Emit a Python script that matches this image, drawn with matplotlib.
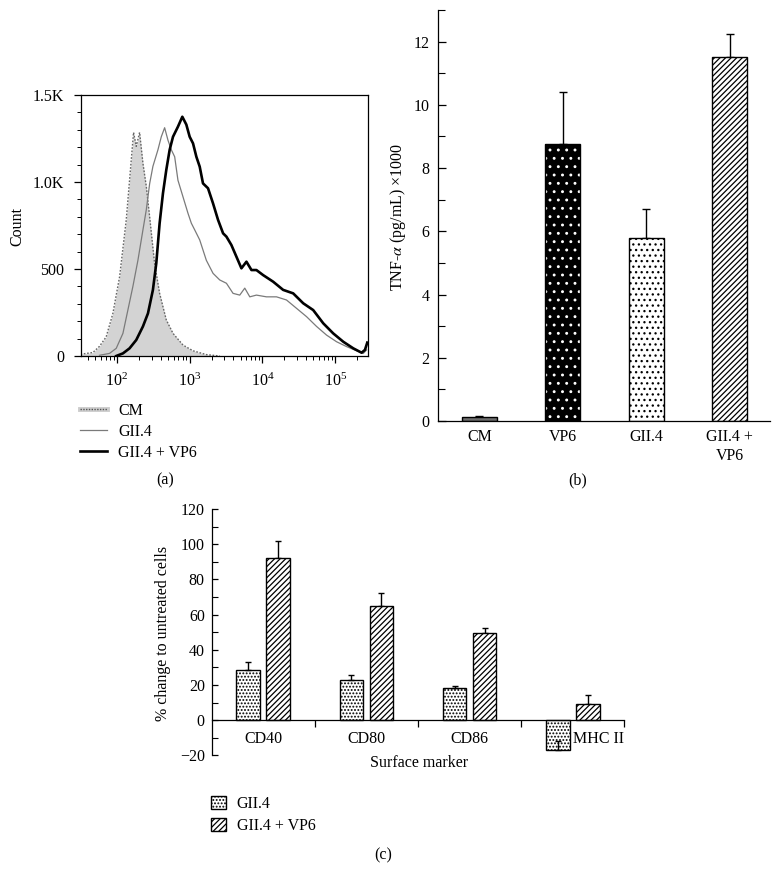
import numpy as np
import matplotlib
matplotlib.use("Agg")
import matplotlib.pyplot as plt
from matplotlib.lines import Line2D
from matplotlib.legend_handler import HandlerTuple
from matplotlib.ticker import FixedLocator, FixedFormatter, LogLocator, NullFormatter, MultipleLocator

plt.rcParams['font.family'] = ['Liberation Serif', 'DejaVu Serif']
plt.rcParams['mathtext.fontset'] = 'stix'
plt.rcParams['font.size'] = 11.5
plt.rcParams['axes.linewidth'] = 0.9
plt.rcParams['hatch.linewidth'] = 0.9

# ---------------- data ----------------
# (a) histogram (log10 fluorescence, count)
cm_logx = [1.50, 1.67, 1.76, 1.853, 1.945, 2.037, 2.128, 2.197, 2.229, 2.266, 2.312, 2.358,
           2.404, 2.45, 2.518, 2.587, 2.679, 2.771, 2.908, 3.046, 3.229, 3.413]
cm_count = [10, 20, 55, 110, 245, 455, 780, 1125, 1285, 1205, 1285, 1107,
            975, 800, 532, 360, 207, 130, 63, 30, 8, 0]

gii4_logx = [1.761, 1.899, 1.991, 2.083, 2.151, 2.22, 2.289, 2.358, 2.404, 2.45, 2.495, 2.564,
             2.61, 2.656, 2.702, 2.748, 2.794, 2.839, 2.908, 2.977, 3.023, 3.069, 3.138, 3.229,
             3.321, 3.413, 3.505, 3.596, 3.688, 3.757, 3.826, 3.917, 4.055, 4.193, 4.33, 4.468,
             4.606, 4.743, 4.881, 5.018, 5.156, 5.294, 5.385, 5.431]
gii4_count = [4, 15, 44, 130, 264, 400, 550, 725, 840, 990, 1090, 1185,
              1260, 1312, 1240, 1185, 1145, 1010, 915, 820, 763, 725, 667, 550,
              475, 437, 418, 360, 350, 390, 340, 350, 340, 340, 322, 274,
              226, 170, 120, 82, 54, 30, 15, 35]

vp6_logx = [1.991, 2.083, 2.174, 2.266, 2.358, 2.427, 2.495, 2.541, 2.587, 2.633, 2.679, 2.725,
            2.771, 2.839, 2.899, 2.954, 3.0, 3.046, 3.092, 3.138, 3.183, 3.252, 3.321, 3.39,
            3.459, 3.505, 3.573, 3.642, 3.711, 3.78, 3.849, 3.917, 4.009, 4.147, 4.284, 4.422,
            4.56, 4.697, 4.835, 4.972, 5.11, 5.248, 5.362, 5.408, 5.44]
vp6_count = [0, 15, 44, 92, 170, 245, 380, 532, 762, 935, 1070, 1185,
             1260, 1318, 1375, 1330, 1260, 1222, 1145, 1088, 992, 964, 877, 782,
             705, 686, 638, 571, 504, 542, 494, 494, 465, 427, 380, 360,
             303, 264, 188, 130, 82, 44, 19, 35, 77]

hist_labels = ['CM', 'GII.4', 'GII.4 + VP6']
count_ticks = [0, 500, 1000, 1500]
count_ticklabels = ['0', '500', '1.0K', '1.5K']

# (b) TNF-alpha
tnf_groups = ['CM', 'VP6', 'GII.4', 'GII.4 +\nVP6']
tnf_mean = [0.14, 8.76, 5.80, 11.51]
tnf_err = [0.03, 1.65, 0.89, 0.73]

# (c) surface markers
markers = ['CD40', 'CD80', 'CD86', 'MHC II']
gii4_change = [28.4, 22.7, 18.2, -17.2]
gii4_change_err = [4.9, 2.9, 1.1, 5.6]
gii4vp6_change = [92.4, 65.0, 49.4, 9.1]
gii4vp6_change_err = [9.5, 7.5, 3.1, 5.3]
series_labels_c = ['GII.4', 'GII.4 + VP6']

# ---------------- figure ----------------
W, H = 781, 888
fig = plt.figure(figsize=(W / 100, H / 100), dpi=100)


def px_axes(left, right, top, bottom):
    return fig.add_axes([left / W, 1 - bottom / H, (right - left) / W, (bottom - top) / H])


# ---------- (a) ----------
axa = px_axes(81, 368, 95, 356)
cx = 10 ** np.array(cm_logx)
axa.fill_between(cx, cm_count, 0, color='#d3d3d3', linewidth=0, zorder=1)
axa.plot(cx, cm_count, color='#666666', lw=1.0, ls=(0, (1.2, 1.2)), zorder=2)
axa.plot(10 ** np.array(gii4_logx), gii4_count, color='#7a7a7a', lw=0.9, zorder=3)
axa.plot(10 ** np.array(vp6_logx), vp6_count, color='black', lw=1.9, zorder=4)
axa.set_xscale('log')
axa.set_xlim(10 ** 1.507, 10 ** 5.45)
axa.set_ylim(0, 1500)
axa.xaxis.set_major_locator(LogLocator(base=10, numticks=10))
axa.xaxis.set_minor_locator(LogLocator(base=10, subs=np.arange(2, 10), numticks=20))
axa.xaxis.set_minor_formatter(NullFormatter())
axa.yaxis.set_major_locator(FixedLocator(count_ticks))
axa.yaxis.set_major_formatter(FixedFormatter(count_ticklabels))
axa.yaxis.set_minor_locator(MultipleLocator(100))
axa.tick_params(which='major', direction='out', length=5, width=0.9)
axa.tick_params(which='minor', direction='out', length=3, width=0.7)
axa.tick_params(axis='x', which='major', pad=7)
axa.tick_params(axis='y', which='major', pad=7)
fig.text(17 / W, 1 - 227 / H, 'Count', rotation=90, ha='center', va='center')

h_cm = (Line2D([], [], color='#cccccc', lw=3.5), Line2D([], [], color='#555555', lw=1.0, ls=(0, (1, 1))))
h_g = Line2D([], [], color='#7a7a7a', lw=0.9)
h_v = Line2D([], [], color='black', lw=1.9)
fig.legend([h_cm, h_g, h_v], hist_labels, loc='upper left', bbox_to_anchor=(80 / W, 1 - 403 / H),
           frameon=False, borderpad=0, borderaxespad=0, handlelength=1.7, handletextpad=0.7,
           labelspacing=0.3, handler_map={tuple: HandlerTuple(ndivide=1)})
fig.text(165 / W, 1 - 480 / H, '(a)', ha='center', va='center')

# ---------- (b) ----------
axb = px_axes(437.7, 770, 10, 421)
xb = np.arange(len(tnf_groups))
bw = 0.42
face_b = ['#6e6e6e', 'black', 'white', 'white']
hatch_b = [None, '..', '...', '//////']
hcol_b = ['black', 'white', 'black', 'black']
for i in range(len(tnf_groups)):
    axb.bar(xb[i], tnf_mean[i], width=bw, color=face_b[i], edgecolor=hcol_b[i],
            hatch=hatch_b[i], linewidth=0, zorder=2)
axb.bar(xb, tnf_mean, width=bw, fill=False, edgecolor='black', linewidth=1.0, zorder=3)
axb.errorbar(xb, tnf_mean, yerr=[np.zeros(len(tnf_err)), tnf_err], fmt='none',
             ecolor='black', elinewidth=1.0, capsize=3.2, capthick=1.0, zorder=1)
axb.set_xlim(-0.5, 3.485)
axb.set_ylim(0, 13)
axb.spines['top'].set_visible(False)
axb.spines['right'].set_visible(False)
axb.set_xticks(xb)
axb.set_xticklabels(tnf_groups, linespacing=1.25)
axb.yaxis.set_major_locator(MultipleLocator(2))
axb.yaxis.set_minor_locator(MultipleLocator(1))
axb.tick_params(axis='x', length=0, pad=6)
axb.tick_params(axis='y', which='major', direction='in', length=6, width=0.9, pad=6)
axb.tick_params(axis='y', which='minor', direction='in', length=5, width=0.8)
fig.text(398 / W, 1 - 217 / H, 'TNF-$\\alpha$ (pg/mL) ×1000', rotation=90, ha='center', va='center')
fig.text(578 / W, 1 - 480 / H, '(b)', ha='center', va='center')

# ---------- (c) ----------
axc = px_axes(211.7, 624.3, 509, 755.3)
xc = np.arange(len(markers))
off, bwc = 0.145, 0.23
zeros = np.zeros(len(markers))
b1 = axc.bar(xc - off, gii4_change, width=bwc, color='white', edgecolor='black',
             hatch='.....', linewidth=1.0, label=series_labels_c[0], zorder=2)
b2 = axc.bar(xc + off, gii4vp6_change, width=bwc, color='white', edgecolor='black',
             hatch='//////', linewidth=1.0, label=series_labels_c[1], zorder=2)
axc.errorbar(xc - off, gii4_change, yerr=[zeros, gii4_change_err], fmt='none', ecolor='black',
             elinewidth=1.0, capsize=2.3, capthick=1.0, zorder=3)
axc.errorbar(xc + off, gii4vp6_change, yerr=[zeros, gii4vp6_change_err], fmt='none', ecolor='black',
             elinewidth=1.0, capsize=2.3, capthick=1.0, zorder=1)
axc.set_xlim(-0.5, 3.5)
axc.set_ylim(-20, 120)
axc.spines['top'].set_visible(False)
axc.spines['right'].set_visible(False)
axc.spines['bottom'].set_position(('data', 0))
axc.xaxis.set_major_locator(FixedLocator(list(xc + 0.5)))
axc.xaxis.set_major_formatter(NullFormatter())
axc.xaxis.set_minor_locator(FixedLocator(list(xc)))
axc.xaxis.set_minor_formatter(FixedFormatter(markers))
axc.tick_params(axis='x', which='major', direction='out', length=5, width=0.9)
axc.tick_params(axis='x', which='minor', length=0, pad=8)
axc.yaxis.set_major_locator(MultipleLocator(20))
axc.yaxis.set_minor_locator(MultipleLocator(10))
axc.yaxis.set_major_formatter(plt.FuncFormatter(lambda v, p: f'{int(round(v))}'.replace('-', '\u2212')))
axc.tick_params(axis='y', which='major', direction='in', length=4.5, width=0.9, pad=5)
axc.tick_params(axis='y', which='minor', direction='in', length=4, width=0.8)
fig.canvas.draw()
labs = axc.xaxis.get_minorticklabels()
labs[-1].set_horizontalalignment('left')
fig.text(163 / W, 1 - 633 / H, '% change to untreated cells', rotation=90, ha='center', va='center')
fig.text(419 / W, 1 - 763 / H, 'Surface marker', ha='center', va='center')
fig.legend([b1, b2], series_labels_c, loc='upper left', bbox_to_anchor=(211 / W, 1 - 796 / H),
           frameon=False, borderpad=0, borderaxespad=0, handlelength=0.95, handleheight=0.9,
           handletextpad=0.65, labelspacing=0.35)
fig.text(383 / W, 1 - 855 / H, '(c)', ha='center', va='center')

fig.savefig('out.png', dpi=100)
